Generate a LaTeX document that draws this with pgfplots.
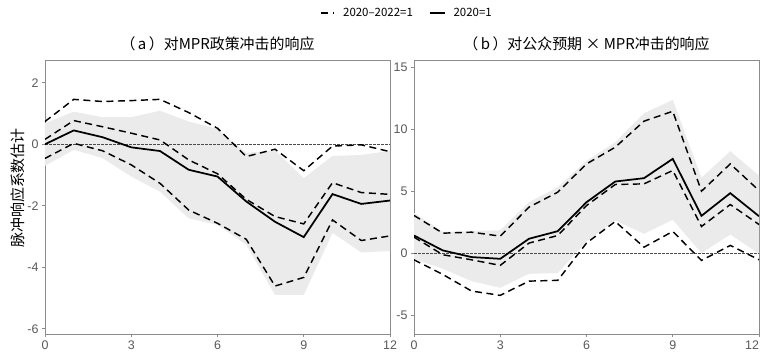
\documentclass[border=0pt]{standalone}
\usepackage{fontspec}
\setmainfont{Noto Sans CJK SC}
\newfontfamily\tickfont{Liberation Sans}
\usepackage{pgfplots}
\usepackage{pgfplotstable}
\pgfplotsset{compat=1.18}
\definecolor{ribbon}{HTML}{EBEBEB}
\definecolor{framegray}{gray}{0.55}
\definecolor{ticklab}{gray}{0.35}

\pgfplotstableread{
x solid mid up lo
0 0 0.16 0.74 -0.46
1 0.45 0.77 1.46 0.03
2 0.23 0.57 1.39 -0.21
3 -0.10 0.36 1.42 -0.67
4 -0.22 0.14 1.46 -1.27
5 -0.83 -0.51 1.03 -2.14
6 -1.05 -0.96 0.52 -2.57
7 -1.86 -1.79 -0.40 -3.09
8 -2.52 -2.35 -0.16 -4.61
9 -3.02 -2.59 -0.86 -4.33
10 -1.62 -1.25 -0.06 -2.46
11 -1.94 -1.57 -0.02 -3.13
12 -1.83 -1.63 -0.24 -2.98
}\lefttab

% ribbon polygon: upper bound forwards, lower bound backwards
\pgfplotstableread{
x y
0 0.68
1 1.06
2 0.88
3 0.88
4 1.09
5 0.74
6 0.50
7 -0.28
8 -0.20
9 -1.10
10 -0.38
11 -0.35
12 -0.21
12 -3.47
11 -3.52
10 -2.88
9 -4.90
8 -4.90
7 -3.27
6 -2.62
5 -2.41
4 -1.54
3 -1.05
2 -0.45
1 -0.18
0 -0.70
}\leftrib

\pgfplotstableread{
x solid mid up lo
0 1.42 1.29 3.04 -0.54
1 0.22 -0.13 1.61 -1.72
2 -0.32 -0.54 1.69 -3.06
3 -0.46 -0.99 1.37 -3.41
4 1.16 0.81 3.71 -2.26
5 1.77 1.42 4.92 -2.20
6 4.11 3.84 7.20 0.81
7 5.78 5.54 8.55 2.55
8 6.05 5.59 10.65 0.48
9 7.61 6.67 11.45 1.75
10 3.01 2.15 5.00 -0.59
11 4.84 3.92 7.20 0.62
12 2.98 2.31 5.05 -0.54
}\righttab

\pgfplotstableread{
x y
0 3.25
1 1.72
2 1.77
3 1.85
4 4.11
5 5.32
6 7.45
7 8.95
8 11.29
9 12.37
10 6.08
11 8.23
12 6.26
12 -0.05
11 1.50
10 0.00
9 2.69
8 1.56
7 2.63
6 0.95
5 -1.61
4 -1.67
3 -2.80
2 -2.26
1 -1.26
0 -0.46
}\rightrib

\pgfplotsset{
  irf/.style={
    scale only axis, width=345bp, height=274bp,
    xmin=0, xmax=12,
    xtick={0,3,6,9,12},
    axis line style={framegray, line width=0.8pt},
    tick style={framegray, line width=0.6pt},
    tick align=outside, major tick length=3bp,
    xtick pos=bottom, ytick pos=left,
    tick label style={font=\fontsize{12.5}{12.5}\tickfont, text=ticklab},
    title style={font=\fontsize{15}{15}\selectfont, at={(0.5,1.036)}, anchor=center},
  },
  dashser/.style={black, line width=1.45pt, dash pattern=on 7bp off 4.5bp},
  solidser/.style={black, line width=1.75pt},
  zeroline/.style={black!70, line width=0.5pt, dash pattern=on 2.5bp off 1.5bp},
}

\begin{document}
\begin{tikzpicture}
\path[use as bounding box] (0,0) rectangle (763bp,355bp);

\begin{axis}[irf, at={(45bp,21bp)}, anchor=south west,
  ymin=-6.17, ymax=2.74,
  xticklabels={0,3,6,9,12},
  ytick={-6,-4,-2,0,2}, yticklabels={-6,-4,-2,0,2},
  title={（\,a\,）对MPR政策冲击的响应},
  ylabel={脉冲响应系数估计},
  ylabel style={font=\fontsize{15}{15}\selectfont, at={(axis description cs:-0.078,0.533)}, anchor=center},
  legend style={at={(1.049,1.172)}, anchor=center, draw=none, fill=none,
    font=\fontsize{11.5}{11.5}\selectfont, legend columns=2,
    /tikz/every odd column/.append style={column sep=6bp},
    /tikz/every even column/.append style={column sep=14bp}},
  legend image code/.code={\draw[#1] (0bp,0bp) -- (15bp,0bp);},
]
\addplot[fill=ribbon, draw=none, forget plot] table[x=x, y=y]{\leftrib} -- cycle;
\addplot[zeroline, forget plot] coordinates {(0,0) (12,0)};
\addplot[dashser, forget plot] table[x=x, y=up]{\lefttab};
\addplot[dashser, forget plot] table[x=x, y=lo]{\lefttab};
\addplot[dashser, legend image code/.code={\draw[black, line width=1.6pt] (0bp,0bp) -- (7bp,0bp); \draw[black, line width=1.6pt] (12bp,0bp) -- (13.5bp,0bp);}] table[x=x, y=mid]{\lefttab};
\addlegendentry{2020–2022=1}
\addplot[solidser] table[x=x, y=solid]{\lefttab};
\addlegendentry{2020=1}
\end{axis}

\begin{axis}[irf, at={(414bp,21bp)}, anchor=south west,
  ymin=-6.53, ymax=15.59,
  xticklabels={0,3,6,9,\makebox[0pt][r]{12}},
  ytick={-5,0,5,10,15}, yticklabels={-5,0,5,10,15},
  title={（\,b\,）对公众预期 × MPR冲击的响应},
]
\addplot[fill=ribbon, draw=none, forget plot] table[x=x, y=y]{\rightrib} -- cycle;
\addplot[zeroline] coordinates {(0,0) (12,0)};
\addplot[dashser] table[x=x, y=up]{\righttab};
\addplot[dashser] table[x=x, y=lo]{\righttab};
\addplot[dashser] table[x=x, y=mid]{\righttab};
\addplot[solidser] table[x=x, y=solid]{\righttab};
\end{axis}
\end{tikzpicture}
\end{document}
